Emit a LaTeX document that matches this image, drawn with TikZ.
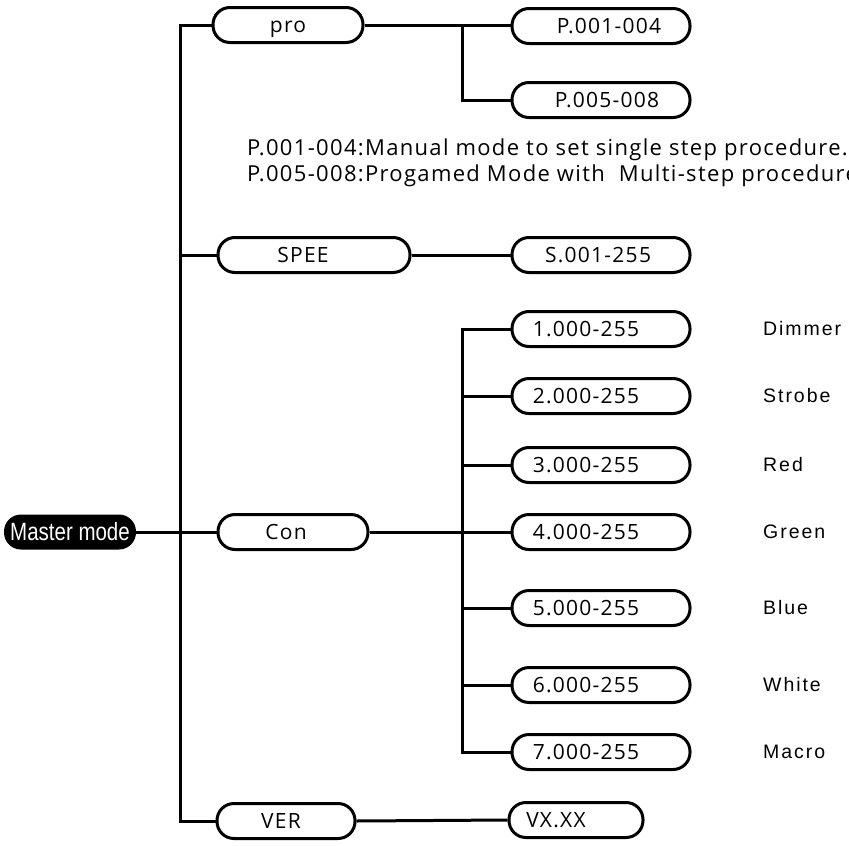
\documentclass[tikz,border=0pt]{standalone}
\usepackage{fontspec}
\setmainfont{Open Sans}
\newfontfamily\boxfont[LetterSpace=6]{Open Sans}
\newfontfamily\descfont[LetterSpace=6]{Open Sans}
\newfontfamily\labfont[LetterSpace=10]{Liberation Sans}
\newfontfamily\narrowfont[FakeStretch=0.82]{Liberation Sans}
\begin{document}
\begin{tikzpicture}[x=1pt,y=-1pt,
  pill/.style={draw, line width=3pt, rounded corners=17pt, minimum height=35pt, inner sep=0pt, text height=15pt, text depth=0pt, font=\boxfont\fontsize{21}{21}\selectfont},
  lab/.style={anchor=west, inner sep=0pt, font=\labfont\fontsize{19.5}{19.5}\selectfont},
  desc/.style={anchor=west, inner sep=0pt, font=\descfont\fontsize{22}{22}\selectfont},
  wire/.style={line width=3pt}]
\useasboundingbox (0,0) rectangle (849,846);

\node[fill=black, rounded corners=17pt, minimum width=132pt, minimum height=35pt, inner sep=0pt, text=white, font=\narrowfont\fontsize{25}{25}\selectfont] (master) at (70,532) {Master mode};

\node[pill, minimum width=150pt] (pro) at (288,25) {pro};
\node[pill, minimum width=178pt] (p1) at (601,26) {\hspace*{16pt}P.001-004};
\node[pill, minimum width=178pt] (p2) at (601,100) {\hspace*{12pt}P.005-008};

\node[desc] (d1) at (247,150) {P.001-004:Manual mode to set single step procedure.};
\node[desc] (d2) at (247,176) {P.005-008:Progamed Mode with\ \ Multi-step procedure.};

\node[pill, minimum width=192pt] (spee) at (314,255) {SPEE\hspace*{22pt}};
\node[pill, minimum width=178pt] (s1) at (601,255) {S.001-255\hspace*{6pt}};

\node[pill, minimum width=150pt] (con) at (293,532) {Con\hspace*{14pt}};

\node[pill, minimum width=178pt] (c1) at (601,329) {1.000-255\hspace*{30pt}};
\node[pill, minimum width=178pt] (c2) at (601,396) {2.000-255\hspace*{30pt}};
\node[pill, minimum width=178pt] (c3) at (601,465) {3.000-255\hspace*{30pt}};
\node[pill, minimum width=178pt] (c4) at (601,532) {4.000-255\hspace*{30pt}};
\node[pill, minimum width=178pt] (c5) at (601,608) {5.000-255\hspace*{30pt}};
\node[pill, minimum width=178pt] (c6) at (601,685) {6.000-255\hspace*{30pt}};
\node[pill, minimum width=178pt] (c7) at (601,752) {7.000-255\hspace*{30pt}};

\node[lab] (l1) at (763,329) {Dimmer};
\node[lab] (l2) at (763,396) {Strobe};
\node[lab] (l3) at (763,465) {Red};
\node[lab] (l4) at (763,532) {Green};
\node[lab] (l5) at (763,608) {Blue};
\node[lab] (l6) at (763,685) {White};
\node[lab] (l7) at (763,752) {Macro};

\node[pill, minimum width=138pt] (ver) at (286,821) {VER\hspace*{10pt}};
\node[pill, minimum width=134pt] (vx) at (576,820) {VX.XX\hspace*{40pt}};

\coordinate (tk) at (180,0);
\coordinate (br) at (462,0);

\draw[wire] (pro.west) -- (pro.west -| tk) -- (ver.west -| tk) -- (ver.west);
\draw[wire] (spee.west) -- (spee.west -| tk);
\draw[wire] (master.east) -- (con.west);
\draw[wire] (pro.east) -- (p1.west |- pro.east);
\draw[wire] (p1.west -| br) -- (p2.west -| br) -- (p2.west);
\draw[wire] (spee.east) -- (s1.west);
\draw[wire] (con.east) -- (c4.west);
\draw[wire] (c1.west) -- (c1.west -| br) -- (c7.west -| br) -- (c7.west);
\foreach \c in {c2,c3,c5,c6} \draw[wire] (\c.west) -- (\c.west -| br);
\draw[wire] (ver.east) -- (vx.west);
\end{tikzpicture}
\end{document}
